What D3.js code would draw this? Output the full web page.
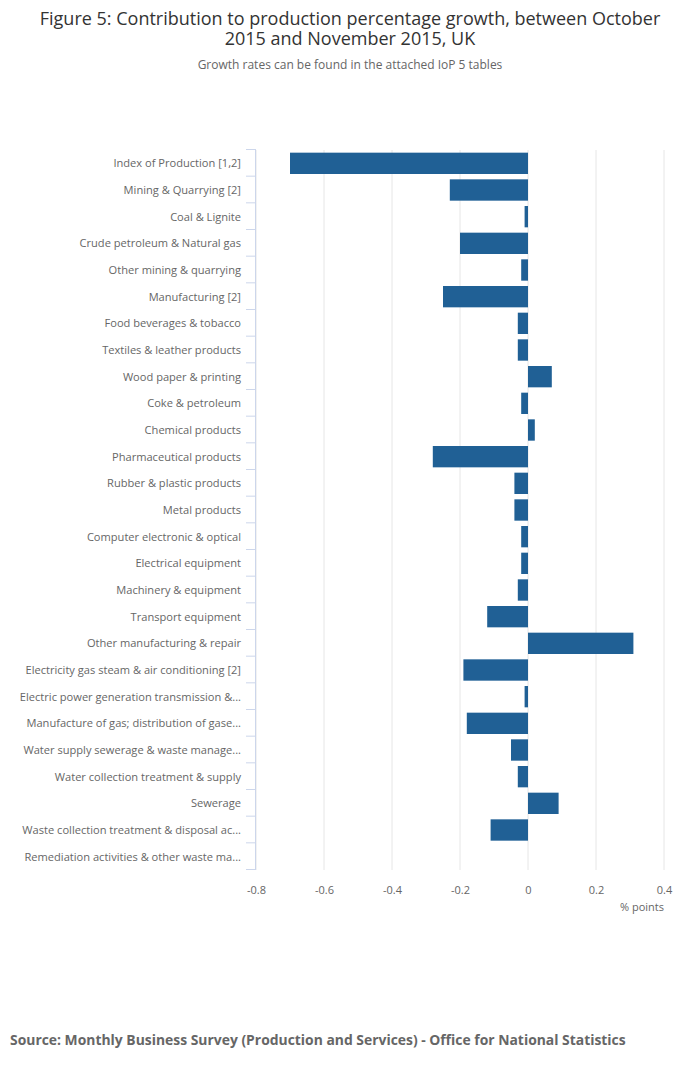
<!DOCTYPE html>
<html>
<head>
<meta charset="utf-8">
<script src="https://cdn.jsdelivr.net/npm/d3@7"></script>
<style>
  body { margin: 0; background: #fff; font-family: "Open Sans", sans-serif; }
</style>
</head>
<body>
<div id="chart"></div>
<script>
// Category labels as shown (long ones are cut with an ellipsis in the original)
const categories = [
    "Index of Production [1,2]",
    "Mining & Quarrying [2]",
    "Coal & Lignite",
    "Crude petroleum & Natural gas",
    "Other mining & quarrying",
    "Manufacturing [2]",
    "Food beverages & tobacco",
    "Textiles & leather products",
    "Wood paper & printing",
    "Coke & petroleum",
    "Chemical products",
    "Pharmaceutical products",
    "Rubber & plastic products",
    "Metal products",
    "Computer electronic & optical",
    "Electrical equipment",
    "Machinery & equipment",
    "Transport equipment",
    "Other manufacturing & repair",
    "Electricity gas steam & air conditioning [2]",
    "Electric power generation transmission &...",
    "Manufacture of gas; distribution of gase...",
    "Water supply sewerage & waste manage...",
    "Water collection treatment & supply",
    "Sewerage",
    "Waste collection treatment & disposal ac...",
    "Remediation activities & other waste ma..."
];

// Contribution, % points
const values = [
    -0.70, -0.23, -0.01, -0.20, -0.02, -0.25, -0.03, -0.03, 0.07, -0.02,
    0.02, -0.28, -0.04, -0.04, -0.02, -0.02, -0.03, -0.12, 0.31, -0.19,
    -0.01, -0.18, -0.05, -0.03, 0.09, -0.11, 0
];

const xTicks = [-0.8, -0.6, -0.4, -0.2, 0, 0.2, 0.4];

const width = 700, height = 1067;
const margin = { top: 150, right: 36, bottom: 197, left: 256 };
const plotW = width - margin.left - margin.right;
const plotH = height - margin.top - margin.bottom;

const data = categories.map((c, i) => ({ name: c, value: values[i] }));

const svg = d3.select("#chart").append("svg")
    .attr("width", width)
    .attr("height", height)
    .style("font-family", "'Open Sans', sans-serif");

// Title, two lines in one text element
const title = svg.append("text")
    .attr("text-anchor", "middle")
    .attr("fill", "#333").style("font-size", "18px");
title.append("tspan")
    .attr("x", width / 2).attr("y", 25)
    .text("Figure 5: Contribution to production percentage growth, between October");
title.append("tspan")
    .attr("x", width / 2).attr("y", 45)
    .text("2015 and November 2015, UK");

svg.append("text")
    .attr("x", width / 2).attr("y", 69)
    .attr("text-anchor", "middle")
    .attr("fill", "#666").style("font-size", "12px")
    .text("Growth rates can be found in the attached IoP 5 tables");

const g = svg.append("g")
    .attr("transform", `translate(${margin.left},${margin.top})`);

const x = d3.scaleLinear().domain([-0.8, 0.4]).range([0, plotW]);
const y = d3.scaleBand().domain(categories).range([0, plotH]).paddingInner(0.2).paddingOuter(0.1);
// band without padding, for the tick marks between categories
const yStep = d3.scaleBand().domain(categories).range([0, plotH]);

// Vertical grid lines
g.append("g")
    .selectAll("line")
    .data(xTicks)
    .join("line")
    .attr("x1", d => x(d)).attr("x2", d => x(d))
    .attr("y1", 0).attr("y2", plotH)
    .attr("stroke", "#e6e6e6")
    .attr("stroke-width", 1);

// Bars
g.append("g")
    .selectAll("rect")
    .data(data)
    .join("rect")
    .attr("x", d => x(Math.min(0, d.value)))
    .attr("y", d => y(d.name))
    .attr("width", d => Math.abs(x(d.value) - x(0)))
    .attr("height", y.bandwidth())
    .attr("fill", "#206095");

// Category axis
const yAxisG = g.append("g");
yAxisG.append("line")
    .attr("x1", -0.5).attr("x2", -0.5)
    .attr("y1", 0).attr("y2", plotH)
    .attr("stroke", "#ccd6eb");
yAxisG.selectAll(".tick-mark")
    .data(categories.map(c => yStep(c)).concat([plotH]))
    .join("line")
    .attr("class", "tick-mark")
    .attr("x1", -10).attr("x2", 0)
    .attr("y1", d => d - 0.5).attr("y2", d => d - 0.5)
    .attr("stroke", "#ccd6eb");
yAxisG.selectAll(".cat-label")
    .data(categories)
    .join("text")
    .attr("class", "cat-label")
    .attr("x", -15)
    .attr("y", d => yStep(d) + yStep.bandwidth() / 2)
    .attr("dy", "0.35em")
    .attr("text-anchor", "end")
    .attr("fill", "#666")
    .style("font-size", "11.1px")
    .text(d => d);

// Value axis
const xAxis = g.append("g")
    .attr("transform", `translate(0,${plotH})`)
    .call(d3.axisBottom(x).tickValues(xTicks).tickSize(0).tickPadding(16)
        .tickFormat(d => String(+d.toFixed(1))));
xAxis.select(".domain").remove();
xAxis.selectAll("text")
    .attr("fill", "#666")
    .style("font-size", "11px")
    .style("font-family", "'Open Sans', sans-serif");

g.append("text")
    .attr("x", plotW)
    .attr("y", plotH + 41)
    .attr("text-anchor", "end")
    .attr("fill", "#666")
    .style("font-size", "11px")
    .text("% points");

// Source
svg.append("text")
    .attr("x", 10).attr("y", 1045)
    .attr("fill", "#666")
    .style("font-size", "13.9px")
    .style("font-weight", "bold")
    .text("Source: Monthly Business Survey (Production and Services) - Office for National Statistics");
</script>
</body>
</html>
